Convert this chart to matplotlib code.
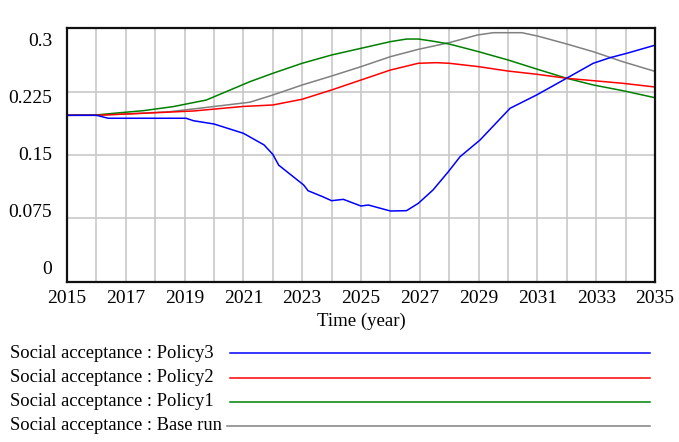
import matplotlib.pyplot as plt
from matplotlib.lines import Line2D

plt.rcParams['font.family'] = ['Liberation Serif', 'DejaVu Serif']

# --- data ---
yrs_p3 = [2015, 2016, 2016.4, 2019.05, 2019.3, 2020, 2021, 2021.7, 2022, 2022.2, 2023.05, 2023.2,
          2023.7, 2024, 2024.4, 2025, 2025.25, 2026, 2026.55, 2026.95, 2027.45, 2027.97,
          2028.37, 2029.05, 2030.07, 2030.97, 2031.99, 2032.9, 2033.47, 2034.04, 2035]
policy3 = [0.197, 0.197, 0.1935, 0.1935, 0.1906, 0.1867, 0.1757, 0.162, 0.1508, 0.138, 0.1145, 0.1077,
           0.1006, 0.0959, 0.0975, 0.0896, 0.0908, 0.0837, 0.0841, 0.0928, 0.1086, 0.1302,
           0.148, 0.1678, 0.2053, 0.221, 0.2408, 0.2586, 0.2652, 0.2704, 0.280]

yrs_p2 = [2015, 2016, 2017.6, 2019.3, 2021, 2022, 2023, 2024, 2025, 2026, 2026.95, 2027.57,
          2028, 2029, 2030, 2031, 2032, 2032.9, 2033.9, 2035]
policy2 = [0.197, 0.197, 0.1994, 0.2021, 0.2075, 0.2092, 0.216, 0.227, 0.2388, 0.2506, 0.2586,
           0.2593, 0.2586, 0.2546, 0.2494, 0.2455, 0.2408, 0.238, 0.2349, 0.2305]

yrs_p1 = [2015, 2016, 2016.6, 2017.6, 2018.6, 2019.74, 2021.22, 2022, 2023, 2024, 2025, 2026,
          2026.55, 2026.95, 2027.4, 2028, 2029, 2030, 2031, 2032, 2032.9, 2033.9, 2035]
policy1 = [0.197, 0.1974, 0.1994, 0.2025, 0.2072, 0.2151, 0.2368, 0.2467, 0.2586, 0.2684, 0.2763,
           0.2842, 0.2873, 0.2873, 0.285, 0.2814, 0.2723, 0.2625, 0.2515, 0.2408, 0.2329, 0.2262,
           0.2178]

yrs_base = [2015, 2016, 2017, 2018.5, 2019.5, 2020.5, 2021.22, 2022, 2023, 2024, 2025, 2026,
            2026.95, 2028, 2028.95, 2029.5, 2030.47, 2031, 2032, 2032.9, 2033.9, 2035]
base_run = [0.197, 0.1972, 0.1985, 0.2013, 0.2053, 0.2095, 0.2125, 0.221, 0.2329, 0.2435, 0.2546,
            0.2664, 0.2751, 0.283, 0.292, 0.2948, 0.2948, 0.2909, 0.2814, 0.2723, 0.2605, 0.249]

series = [
    ("Social acceptance : Policy3", yrs_p3, policy3, "#0000ff"),
    ("Social acceptance : Policy2", yrs_p2, policy2, "#ff0000"),
    ("Social acceptance : Policy1", yrs_p1, policy1, "#008000"),
    ("Social acceptance : Base run", yrs_base, base_run, "#808080"),
]

ytick_vals = [0.3, 0.225, 0.15, 0.075, 0]
ytick_text = ["0.3", "0.225", "0.15", "0.075", "0"]
xtick_years = list(range(2015, 2036))

W, H = 679, 442
fig = plt.figure(figsize=(W / 100, H / 100), dpi=100)
ax = fig.add_axes([67 / W, 1 - 281.7 / H, 588 / W, 253.4 / H])

for name, xs, ys, col in series[::-1]:
    ax.plot(xs, ys, color=col, lw=1.1)

ax.set_xlim(2015, 2035)
ax.set_ylim(0, 0.3)
ax.set_xticks(xtick_years)
ax.set_xticklabels([str(y) if (y - 2015) % 2 == 0 else "" for y in xtick_years], fontsize=14)
ax.set_yticks([0.075, 0.15, 0.225])
ax.set_yticklabels([])
ax.tick_params(length=0, pad=6)
ax.grid(True, color="#c8c8c8", lw=1.2)
ax.set_axisbelow(True)
for s in ax.spines.values():
    s.set_linewidth(1.6)
    s.set_color("#111111")

# Vensim-style y labels (spread slightly inside the axis range)
label_pos = [0.947, 0.724, 0.5, 0.272, 0.047]
for v, t, p in zip(ytick_vals, ytick_text, label_pos):
    ax.text(-0.025, p, t, transform=ax.transAxes, ha="right", va="center", fontsize=14)

ax.set_xlabel("Time (year)", fontsize=13.5, labelpad=4)

# legend rows below the chart
rows_y = [353, 378, 402, 426]
for (name, xs, ys, col), ry in zip(series, rows_y):
    fig.text(10 / W, 1 - ry / H, name, ha="left", va="center", fontsize=13.3)
    x0 = 227 if "Base" in name else 230
    fig.add_artist(Line2D([x0 / W, 650 / W], [1 - ry / H, 1 - ry / H], color=col, lw=1.1))

fig.savefig("out.png", dpi=100)
